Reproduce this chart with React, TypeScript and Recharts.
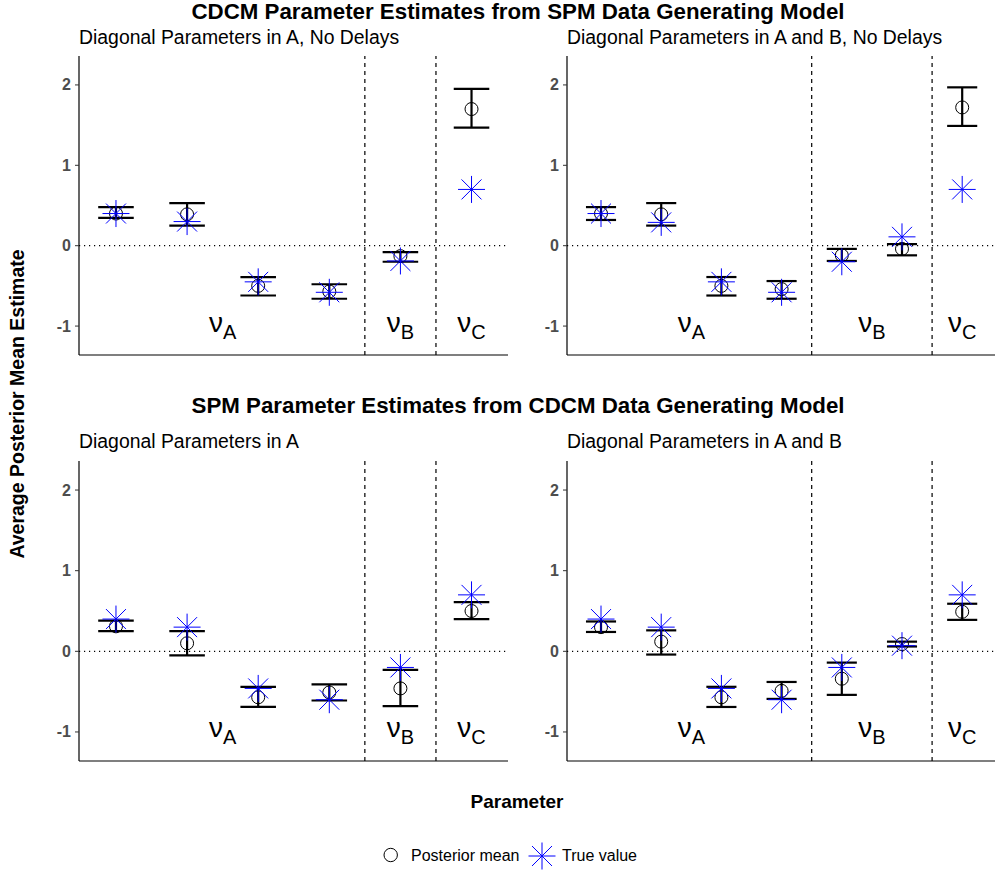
import React from 'react';
import { ScatterChart, Scatter, XAxis, YAxis, ReferenceLine, ErrorBar } from 'recharts';

// values, one entry per parameter
const tlMean = [0.4, 0.39, -0.5, -0.57, -0.13, 1.7];
const tlLower = [0.345, 0.25, -0.62, -0.66, -0.2, 1.47];
const tlUpper = [0.48, 0.53, -0.39, -0.48, -0.08, 1.95];
const tlTrue = [0.4, 0.3, -0.45, -0.58, -0.19, 0.7];

const trMean = [0.4, 0.39, -0.5, -0.54, -0.12, -0.04, 1.72];
const trLower = [0.32, 0.25, -0.62, -0.66, -0.19, -0.12, 1.49];
const trUpper = [0.48, 0.53, -0.39, -0.44, -0.04, 0.02, 1.97];
const trTrue = [0.4, 0.29, -0.45, -0.58, -0.2, 0.11, 0.7];

const blMean = [0.31, 0.1, -0.57, -0.51, -0.46, 0.5];
const blLower = [0.25, -0.05, -0.69, -0.61, -0.68, 0.4];
const blUpper = [0.38, 0.25, -0.44, -0.41, -0.23, 0.61];
const blTrue = [0.4, 0.3, -0.46, -0.6, -0.2, 0.7];

const brMean = [0.3, 0.12, -0.57, -0.49, -0.34, 0.09, 0.49];
const brLower = [0.24, -0.04, -0.69, -0.59, -0.54, 0.06, 0.39];
const brUpper = [0.37, 0.26, -0.44, -0.38, -0.14, 0.12, 0.59];
const brTrue = [0.4, 0.3, -0.46, -0.6, -0.2, 0.07, 0.7];

const sixLabelX = [2.5, 5, 6];
const sevenLabelX = [2.5, 5.5, 7];
const labelSubs = ['A', 'B', 'C'];
const labelY = -1;
const sixDividers = [4.5, 5.5];
const sevenDividers = [4.5, 6.5];

const yTicks = [-1, 0, 1, 2];
const yDomain: [number, number] = [-1.36, 2.36];

const FONT = '"Liberation Sans", Arial, Helvetica, sans-serif';

const Asterisk = ({ cx, cy, r = 13.5 }: { cx: number; cy: number; r?: number }) => {
  const d = r * 0.74;
  return (
    <g stroke="#0000ff" strokeWidth={1}>
      <line x1={cx - r} y1={cy} x2={cx + r} y2={cy} />
      <line x1={cx} y1={cy - r} x2={cx} y2={cy + r} />
      <line x1={cx - d} y1={cy - d} x2={cx + d} y2={cy + d} />
      <line x1={cx - d} y1={cy + d} x2={cx + d} y2={cy - d} />
    </g>
  );
};

const OpenCircle = (p: any) => (
  <circle cx={p.cx} cy={p.cy} r={6.5} fill="none" stroke="#000" strokeWidth={1} />
);

const NuLabel = (p: any) => (
  <text x={p.cx} y={p.cy + 5.5} textAnchor="middle" fontSize={28} fontFamily={FONT} fill="#000">
    ν<tspan fontSize={20} dy={7}>{p.payload.sub}</tspan>
  </text>
);

const YTick = (p: any) => (
  <text x={p.x} y={p.y + 5.5} textAnchor="end" fontSize={16} fontWeight="bold" fill="#4d4d4d" fontFamily={FONT}>
    {p.payload.value}
  </text>
);

interface PanelProps {
  left: number;
  top: number;
  width: number;
  plotH: number;
  xDomain: [number, number];
  mean: number[];
  lower: number[];
  upper: number[];
  truth: number[];
  labelX: number[];
  dividers: number[];
}

const Panel = ({ left, top, width, plotH, xDomain, mean, lower, upper, truth, labelX, dividers }: PanelProps) => {
  const axisW = 79;
  const plotW = width - axisW;
  const capHalf = (0.25 * plotW) / (xDomain[1] - xDomain[0]);
  const means = mean.map((m, i) => ({ x: i + 1, y: m, err: [m - lower[i], upper[i] - m] }));
  const truths = truth.map((t, i) => ({ x: i + 1, y: t }));
  const labels = labelX.map((x, i) => ({ x, y: labelY, sub: labelSubs[i] }));

  return (
    <div style={{ position: 'absolute', left, top }}>
      <ScatterChart width={width} height={plotH + 2} margin={{ top: 0, right: 0, bottom: 1, left: 0 }}>
        <XAxis
          type="number"
          dataKey="x"
          domain={xDomain}
          allowDataOverflow
          tick={false}
          tickLine={false}
          height={1}
          axisLine={{ stroke: '#000', strokeWidth: 1.2 }}
        />
        <YAxis
          type="number"
          dataKey="y"
          domain={yDomain}
          allowDataOverflow
          ticks={yTicks}
          width={axisW}
          tickSize={4}
          tickMargin={4}
          tickLine={{ stroke: '#333' }}
          axisLine={{ stroke: '#000', strokeWidth: 1.2 }}
          tick={<YTick />}
        />
        <ReferenceLine y={0} stroke="#000" strokeDasharray="1.2 3.8" strokeWidth={1.2} />
        {dividers.map((d) => (
          <ReferenceLine key={d} x={d} stroke="#000" strokeDasharray="4 4" strokeWidth={1.2} />
        ))}
        <Scatter data={labels} shape={NuLabel} isAnimationActive={false} />
        <Scatter data={means} shape={OpenCircle} isAnimationActive={false}>
          <ErrorBar dataKey="err" direction="y" width={capHalf} stroke="#000" strokeWidth={2.2} isAnimationActive={false} />
        </Scatter>
        <Scatter
          data={truths}
          shape={(p: any) => <Asterisk cx={p.cx} cy={p.cy} />}
          isAnimationActive={false}
        />
      </ScatterChart>
    </div>
  );
};

export default function App() {
  return (
    <div style={{ position: 'absolute', left: 0, top: 0, width: 995, height: 871, background: '#fff', fontFamily: FONT }}>
      <svg width={995} height={871} style={{ position: 'absolute', left: 0, top: 0 }}>
        <text x={518} y={18.5} textAnchor="middle" fontSize={22.3} fontWeight="bold" fontFamily={FONT}>
          CDCM Parameter Estimates from SPM Data Generating Model
        </text>
        <text x={79} y={44} fontSize={19.4} fontFamily={FONT}>Diagonal Parameters in A, No Delays</text>
        <text x={567} y={44} fontSize={19.4} fontFamily={FONT}>Diagonal Parameters in A and B, No Delays</text>
        <text x={518} y={413} textAnchor="middle" fontSize={22.3} fontWeight="bold" fontFamily={FONT}>
          SPM Parameter Estimates from CDCM Data Generating Model
        </text>
        <text x={79} y={448} fontSize={19.4} fontFamily={FONT}>Diagonal Parameters in A</text>
        <text x={567} y={448} fontSize={19.4} fontFamily={FONT}>Diagonal Parameters in A and B</text>
        <text
          transform="translate(24,404) rotate(-90)"
          textAnchor="middle"
          fontSize={19.5}
          fontWeight="bold"
          fontFamily={FONT}
        >
          Average Posterior Mean Estimate
        </text>
        <text x={517} y={808} textAnchor="middle" fontSize={19} fontWeight="bold" fontFamily={FONT}>
          Parameter
        </text>
        {/* legend */}
        <circle cx={390.7} cy={855} r={6.7} fill="none" stroke="#000" strokeWidth={1} />
        <text x={411} y={860.5} fontSize={16} fontFamily={FONT}>Posterior mean</text>
        <Asterisk cx={542} cy={856} />
        <text x={562} y={860.5} fontSize={16} fontFamily={FONT}>True value</text>
      </svg>

      <Panel left={0} top={56} width={508} plotH={299} xDomain={[0.48, 6.513]}
        mean={tlMean} lower={tlLower} upper={tlUpper} truth={tlTrue}
        labelX={sixLabelX} dividers={sixDividers} />
      <Panel left={488} top={56} width={507} plotH={299} xDomain={[0.435, 7.545]}
        mean={trMean} lower={trLower} upper={trUpper} truth={trTrue}
        labelX={sevenLabelX} dividers={sevenDividers} />
      <Panel left={0} top={461} width={508} plotH={300} xDomain={[0.48, 6.513]}
        mean={blMean} lower={blLower} upper={blUpper} truth={blTrue}
        labelX={sixLabelX} dividers={sixDividers} />
      <Panel left={488} top={461} width={507} plotH={300} xDomain={[0.435, 7.545]}
        mean={brMean} lower={brLower} upper={brUpper} truth={brTrue}
        labelX={sevenLabelX} dividers={sevenDividers} />
    </div>
  );
}
